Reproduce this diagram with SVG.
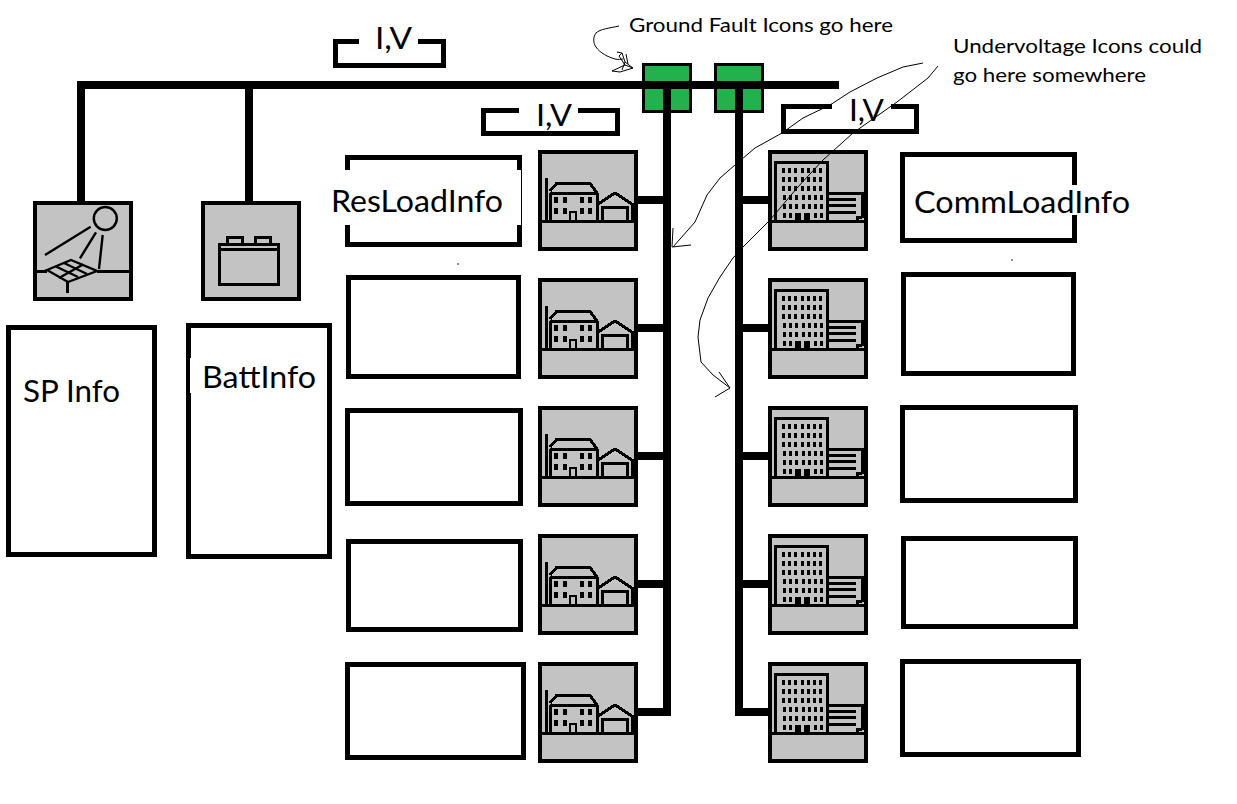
<svg xmlns="http://www.w3.org/2000/svg" width="1237" height="804" viewBox="0 0 1237 804">
<style>
text{font-family:"Lato","Carlito","Open Sans",sans-serif;fill:#000}
.big{font-size:30px}
.small{font-size:20px}
.info{fill:#fff;stroke:#000;stroke-width:5;shape-rendering:crispEdges}
.mask{fill:#fff}
.bus{fill:none;stroke:#000;stroke-width:8;shape-rendering:crispEdges}
.bracket{fill:none;stroke:#000;stroke-width:5;shape-rendering:crispEdges}
.switch{fill:#22b14c;stroke:#000;stroke-width:3;shape-rendering:crispEdges}
.frame{fill:#c3c3c3;stroke:#000;stroke-width:4;shape-rendering:crispEdges}
.ink{fill:none;stroke:#000;stroke-width:3;shape-rendering:crispEdges}
.ink3{fill:none;stroke:#000;stroke-width:3;shape-rendering:crispEdges}
.ink2{fill:none;stroke:#000;stroke-width:2.400}
.win{fill:#000;shape-rendering:crispEdges}
.scribble{fill:none;stroke:#000;stroke-width:1}
</style>
<defs>
<g id="house">
<rect class="frame" x="2" y="2" width="96" height="97"/>
<path class="ink3" d="M4 71.500H96M8.500 28V71"/>
<path class="ink" d="M12.500 43V71M59.500 43V71M12 43.500H60M12 41L18.500 33.500H52L59 43M60 54L77 43L94 54V71M64.500 71V57.500H89V71"/>
<path class="win" d="M15.500 47h4v6h-4zM24.500 47h4v6h-4zM41.500 47h4v6h-4zM50 47h4v6h-4zM15.500 58h4v6h-4zM24.500 58h4v6h-4zM41.500 58h4v6h-4zM50 58h4v6h-4z"/>
<path class="ink" d="M32 71V62H38V71" style="stroke-width:2"/>
</g>
<g id="office">
<rect class="frame" x="2" y="2" width="96" height="97"/>
<path class="ink3" d="M4 71.500H96M7.500 71V12.500H59.500V71"/>
<path class="ink" d="M60 43.500H94V68M94 67H89V71M60 49H88M60 55.500H88M60 62H88"/>
<path class="win" d="M14 18h3v5h-3zM20 18h3v5h-3zM26 18h3v5h-3zM33 18h3v5h-3zM39 18h3v5h-3zM45 18h3v5h-3zM51 18h3v5h-3zM14 27h3v5h-3zM20 27h3v5h-3zM26 27h3v5h-3zM33 27h3v5h-3zM39 27h3v5h-3zM45 27h3v5h-3zM51 27h3v5h-3zM14 36h3v5h-3zM20 36h3v5h-3zM26 36h3v5h-3zM33 36h3v5h-3zM39 36h3v5h-3zM45 36h3v5h-3zM51 36h3v5h-3zM15 45h3v5h-3zM21 45h3v5h-3zM27 45h3v5h-3zM34 45h3v5h-3zM40 45h3v5h-3zM46 45h3v5h-3zM52 45h3v5h-3zM15 54h3v5h-3zM21 54h3v5h-3zM27 54h3v5h-3zM34 54h3v5h-3zM40 54h3v5h-3zM46 54h3v5h-3zM52 54h3v5h-3zM15 63h3v5h-3zM21 63h3v5h-3zM46 63h3v5h-3zM52 63h3v5h-3zM27 63h6v8h-6zM36 63h6v8h-6z"/>
</g>
</defs>

<g id="annotations-under">
<circle cx="458" cy="264" r="0.8" fill="#000"/>
<circle cx="1012" cy="260" r="0.8" fill="#000"/>
</g>

<g id="switch-1"><rect class="switch" x="643.500" y="64.500" width="47" height="47"/></g>
<g id="switch-2"><rect class="switch" x="715.500" y="64.500" width="47" height="47"/></g>

<g id="connectors">
<path class="bus" d="M81 202V85H839M249 85V202"/>
<path class="bus" d="M667 85V712H638M663 200H638M663 328H638M663 456H638M663 584H638"/>
<path class="bus" d="M739 85V712H768M743 200H768M743 328H768M743 456H768M743 584H768"/>
</g>

<g id="solar-panel">
<rect class="frame" x="35" y="203" width="96" height="96"/>
<g transform="translate(33 201)">
<path class="ink" d="M4 70H14M64 70H96M34 81V92"/>
<circle class="ink2" cx="72.300" cy="17.500" r="11.500"/>
<path class="ink2" d="M12 54L57.700 25.700M47 57.300L63 31.300M66 68L69.700 34"/>
<path d="M14 69L38 59L64 70L35 81Z" fill="#c3c3c3" stroke="#000" stroke-width="2.400"/>
<path class="ink2" d="M23 65.500L45 76M31 62L54 73M26 77L50 63.500"/>
</g>
</g>

<g id="battery">
<rect class="frame" x="203" y="203" width="96" height="96"/>
<g transform="translate(201 201)">
<path class="ink" d="M18 43H77V83H18ZM18 48H77M26 42V36.500H41V42M54 42V36.500H69V42"/>
</g>
</g>

<g id="res-load-1"><use href="#house" x="538" y="150"/></g>
<g id="res-load-2"><use href="#house" x="538" y="278"/></g>
<g id="res-load-3"><use href="#house" x="538" y="406"/></g>
<g id="res-load-4"><use href="#house" x="538" y="534"/></g>
<g id="res-load-5"><use href="#house" x="538" y="662"/></g>
<g id="comm-load-1"><use href="#office" x="768" y="150"/></g>
<g id="comm-load-2"><use href="#office" x="768" y="278"/></g>
<g id="comm-load-3"><use href="#office" x="768" y="406"/></g>
<g id="comm-load-4"><use href="#office" x="768" y="534"/></g>
<g id="comm-load-5"><use href="#office" x="768" y="662"/></g>

<g id="sp-info">
<rect class="info" x="8.500" y="327.500" width="146" height="227"/>
<text class="big" x="23" y="402" textLength="97" lengthAdjust="spacingAndGlyphs">SP Info</text>
</g>
<g id="batt-info">
<rect class="info" x="188.500" y="325.500" width="141" height="231"/>
<rect class="mask" x="190" y="358" width="100" height="35"/>
<text class="big" x="202" y="388" textLength="114" lengthAdjust="spacingAndGlyphs">BattInfo</text>
</g>
<g id="res-info-1">
<rect class="info" x="347.500" y="157.500" width="172" height="87"/>
<rect class="mask" x="331" y="170" width="190" height="55"/>
<text class="big" x="331" y="212" textLength="172" lengthAdjust="spacingAndGlyphs">ResLoadInfo</text>
</g>
<g id="res-info-2"><rect class="info" x="348.500" y="277.500" width="170" height="99"/></g>
<g id="res-info-3"><rect class="info" x="347.500" y="410.500" width="173" height="93"/></g>
<g id="res-info-4"><rect class="info" x="348.500" y="541.500" width="172" height="88"/></g>
<g id="res-info-5"><rect class="info" x="347.500" y="664.500" width="176" height="93"/></g>
<g id="comm-info-1">
<rect class="info" x="902.500" y="154.500" width="172" height="86"/>
<rect class="mask" x="910" y="185" width="222" height="30"/>
<text class="big" x="914" y="213" textLength="216" lengthAdjust="spacingAndGlyphs">CommLoadInfo</text>
</g>
<g id="comm-info-2"><rect class="info" x="903.500" y="274.500" width="170" height="99"/></g>
<g id="comm-info-3"><rect class="info" x="902.500" y="407.500" width="173" height="93"/></g>
<g id="comm-info-4"><rect class="info" x="903.500" y="538.500" width="172" height="88"/></g>
<g id="comm-info-5"><rect class="info" x="902.500" y="661.500" width="176" height="93"/></g>

<g id="iv-1">
<path class="bracket" d="M359 41.500H335.500V65.500H443.500V41.500H418"/>
<text class="big" x="375" y="49" textLength="37" lengthAdjust="spacingAndGlyphs">I,V</text>
</g>
<g id="iv-2">
<path class="bracket" d="M519 110.500H483.500V133.500H617.500V110.500H578"/>
<text class="big" x="536" y="126" textLength="36" lengthAdjust="spacingAndGlyphs">I,V</text>
</g>
<g id="iv-3">
<path class="bracket" d="M832 106.500H783.500V131.500H916.500V106.500H891"/>
<text class="big" x="849" y="121" textLength="35" lengthAdjust="spacingAndGlyphs">I,V</text>
</g>

<g id="ground-fault-note">
<text class="small" x="629" y="32" textLength="264" lengthAdjust="spacingAndGlyphs">Ground Fault Icons go here</text>
<path class="scribble" d="M619 26C610 28 600 29 596 33C593 37 593 43 596 47C600 53 608 57 615 59C618 60 621 59 623 59"/>
<path class="scribble" d="M617 52L622 53L625 62L633 68L620 72L612 71L625 65L619 56L622 53M625 62L622 70M625 65L633 68M626 54L628 64"/>
</g>
<g id="undervoltage-note">
<text class="small" x="953" y="53" textLength="249" lengthAdjust="spacingAndGlyphs">Undervoltage Icons could</text>
<text class="small" x="953" y="82" textLength="193" lengthAdjust="spacingAndGlyphs">go here somewhere</text>
<path class="scribble" d="M923 63L903 67L877 78L850 92L830 105L803 118L782 133L755 148L735 165L720 178L707 195L695 222L673 247"/>
<path class="scribble" d="M673 228L672 247L691 245"/>
<path class="scribble" d="M938 66L928 78L897 102L853 133L823 160L797 188L770 220L743 247L733 258L720 277L708 298L700 320L698 337L701 362L713 375L730 388"/>
<path class="scribble" d="M719 372L730 388L715 397"/>
</g>
</svg>
